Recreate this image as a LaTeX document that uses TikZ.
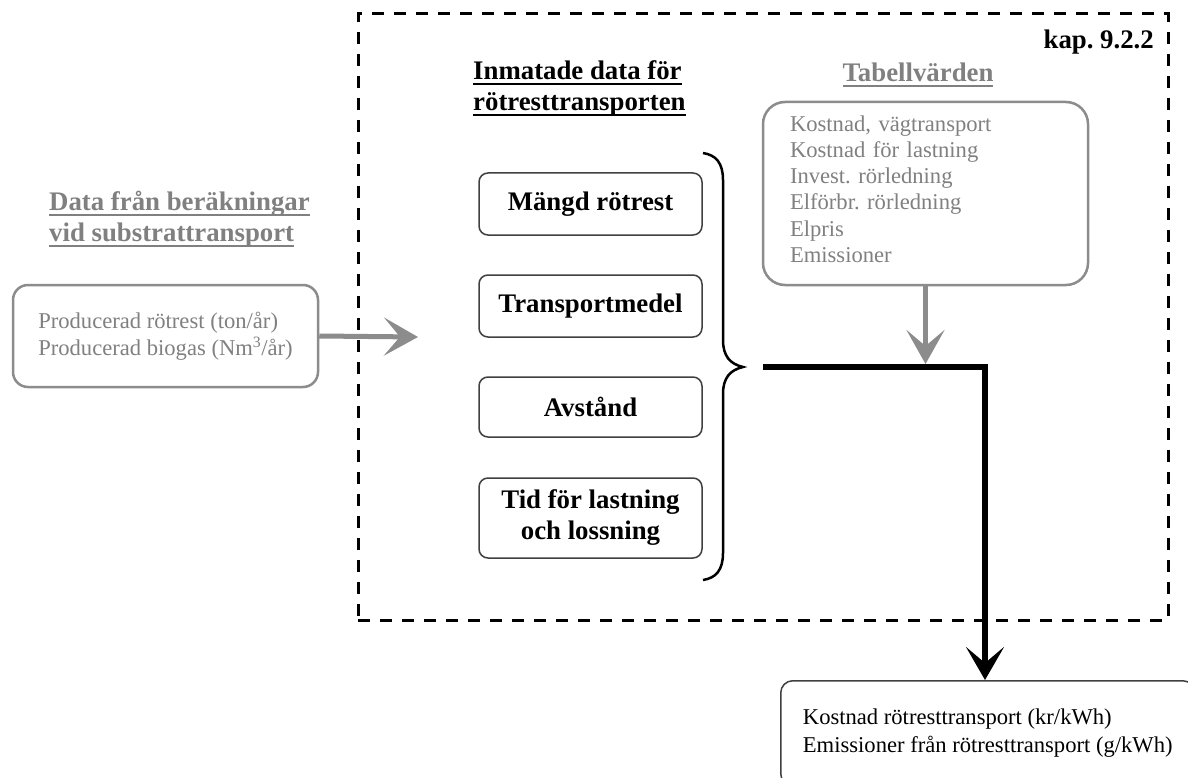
\documentclass[tikz,border=0pt]{standalone}
\usepackage{fontspec}
\setmainfont{Liberation Serif}
\usetikzlibrary{arrows.meta,calc}

\definecolor{txtgray}{RGB}{128,128,128}
\definecolor{linegray}{RGB}{140,140,140}
\definecolor{boxdark}{RGB}{64,64,64}

% underlined heading line with a heavier rule than \underline
\newcommand{\ulline}[1]{\setbox0=\hbox{#1}\rlap{\rule[-5.5pt]{\wd0}{2pt}}\box0}
\newcommand{\headfont}{\fontsize{26.8pt}{31pt}\selectfont\bfseries}
\newcommand{\bodyfont}{\fontsize{22.6pt}{26.2pt}\selectfont}
\frenchspacing

\begin{document}
\begin{tikzpicture}[x=1pt,y=-1pt,
  frame/.style={draw=black, line width=3pt, dash pattern=on 12pt off 10pt, inner sep=0pt},
  infobox/.style={draw=boxdark, line width=1.5pt, rounded corners=9pt, minimum width=223pt,
    align=center, font=\headfont, inner sep=0pt},
  graybox/.style={draw=linegray, line width=2.5pt, text=txtgray, font=\bodyfont, align=left},
  heading/.style={inner sep=0pt, font=\headfont, align=left},
  grayarrow/.style={draw=linegray, line width=5pt, -{Stealth[length=34pt,width=38pt,inset=16pt]}},
  blackarrow/.style={draw=black, line width=6pt, -{Stealth[length=33pt,width=38pt,inset=16pt]}},
]
\useasboundingbox (0,0) rectangle (1188,778);
\clip (0,0) rectangle (1188,778);
\fill[white] (0,0) rectangle (1188,778);

% dashed frame of the calculation step
\node[frame, minimum width=810pt, minimum height=606pt] (frame) at (763,317) {};
\node[heading, anchor=east] (kap) at (1154,42) {kap. 9.2.2};

% input from the substrate transport step
\node[heading, anchor=west, text=txtgray] (srchead) at (49,219)
  {\ulline{Data från beräkningar}\\\ulline{vid substrattransport}};
\node[graybox, rounded corners=15pt, minimum width=305pt, minimum height=102pt,
  inner ysep=0pt, font=\fontsize{22.6pt}{27pt}\selectfont] (src) at (165.5,336)
  {Producerad rötrest (ton/år)\\Producerad biogas (Nm\textsuperscript{3}/år)};
\coordinate (srcend) at (418,337);

% user input
\node[heading, anchor=west] (inhead) at (473,88)
  {\ulline{Inmatade data för}\\\ulline{rötresttransporten}};
\node[infobox, minimum height=62pt] (amount) at (590.5,204) {Mängd rötrest};
\node[infobox, minimum height=62pt] (mode) at (590.5,306) {Transportmedel};
\node[infobox, minimum height=60pt] (dist) at (590.5,407) {Avstånd};
\node[infobox, minimum height=80pt] (time) at (590.5,518) {Tid för lastning\\och lossning};

% brace collecting the inputs
\coordinate (bracetip) at (743,367);
\draw[line width=2.5pt] (703,153) .. controls (716,155) and (723,163) .. (723,180)
  -- (723,340) .. controls (723,356) and (730,364) .. (bracetip)
  .. controls (730,370) and (723,378) .. (723,394)
  -- (723,553) .. controls (723,570) and (716,578) .. (703,580);

% table values
\node[heading, text=txtgray] (tabhead) at (918,75) {\ulline{Tabellvärden}};
\node[graybox, rounded corners=22pt, minimum width=325pt, minimum height=183pt,
  text width=271pt, inner xsep=27pt] (tab) at (925.5,193.5)
  {Kostnad, vägtransport\\Kostnad för lastning\\Invest. rörledning\\Elförbr. rörledning\\Elpris\\Emissioner\rule[-9pt]{0pt}{0pt}};

% results
\node[draw=boxdark, line width=1.5pt, rounded corners=12pt, anchor=north west,
  minimum width=414pt, minimum height=105pt, inner xsep=20pt, align=left,
  font=\fontsize{22.6pt}{28pt}\selectfont] (out) at (780,680)
  {Kostnad rötresttransport (kr/kWh)\\Emissioner från rötresttransport (g/kWh)};

% connectors
\coordinate (bend) at (985,367);
\draw[grayarrow] (src.east) -- (srcend);
\draw[blackarrow] ($(bracetip)+(20,0)$) -- (bend) -- (bend |- out.north);
\draw[grayarrow] (tab.south) -- ($(tab.south |- bend)+(0,-3)$);
\end{tikzpicture}
\end{document}
